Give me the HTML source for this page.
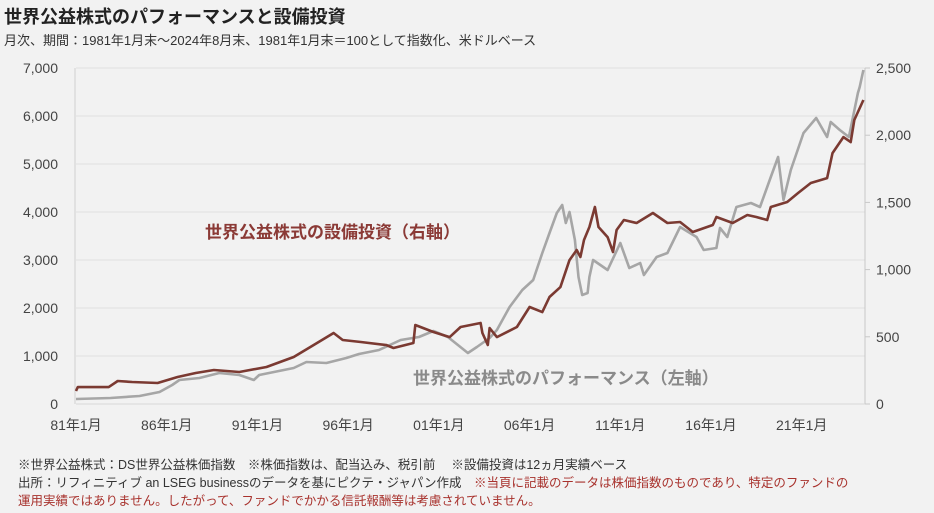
<!DOCTYPE html>
<html><head><meta charset="utf-8"><style>
body{margin:0;background:#f2f2f2;font-family:"Liberation Sans","Noto Sans CJK JP",sans-serif;}
svg{display:block}
</style></head><body>
<svg id="chart" width="934" height="513" viewBox="0 0 934 513">
<rect width="934" height="513" fill="#f2f2f2"/>
<text x="4" y="23" font-size="18" font-weight="bold" fill="#222">世界公益株式のパフォーマンスと設備投資</text>
<text x="4" y="45" font-size="13" fill="#333">月次、期間：1981年1月末～2024年8月末、1981年1月末＝100として指数化、米ドルベース</text>
<g id="grid"></g>
<g id="axes"></g>
<g id="series"></g>
<text x="205" y="238" font-size="17" font-weight="bold" fill="#8b3a36">世界公益株式の設備投資（右軸）</text>
<text x="413" y="384" font-size="17" font-weight="bold" fill="#8a8a8a">世界公益株式のパフォーマンス（左軸）</text>
<text x="18" y="469" font-size="12.5" fill="#333">※世界公益株式：DS世界公益株価指数　※株価指数は、配当込み、税引前　 ※設備投資は12ヵ月実績ベース</text>
<text x="18" y="487" font-size="12.5" fill="#333">出所：リフィニティブ an LSEG businessのデータを基にピクテ・ジャパン作成　<tspan fill="#a8322d">※当頁に記載のデータは株価指数のものであり、特定のファンドの</tspan></text>
<text x="18" y="505" font-size="12.5" fill="#a8322d">運用実績ではありません。したがって、ファンドでかかる信託報酬等は考慮されていません。</text>
</svg>
<script>
const leftTicks=[0,1000,2000,3000,4000,5000,6000,7000];
const leftTickLabels=["0","1,000","2,000","3,000","4,000","5,000","6,000","7,000"];
const rightTicks=[0,500,1000,1500,2000,2500];
const rightTickLabels=["0","500","1,000","1,500","2,000","2,500"];
const xTickYears=[1981,1986,1991,1996,2001,2006,2011,2016,2021];
const xTickLabels=["81年1月","86年1月","91年1月","96年1月","01年1月","06年1月","11年1月","16年1月","21年1月"];
const perfDates=[1981.0,1982.9,1984.5,1985.6,1986.3,1986.7,1987.8,1988.9,1990.0,1990.8,1991.1,1993.0,1993.7,1994.8,1995.9,1996.6,1997.7,1998.9,1999.9,2000.7,2001.5,2002.6,2003.1,2003.8,2004.2,2004.9,2005.6,2006.2,2006.7,2007.1,2007.5,2007.8,2008.0,2008.2,2008.5,2008.7,2008.9,2009.2,2009.3,2009.5,2010.3,2011.0,2011.5,2012.1,2012.3,2013.0,2013.6,2014.3,2015.2,2015.6,2016.3,2016.5,2016.9,2017.4,2018.2,2018.7,2019.3,2019.7,2020.0,2020.4,2021.1,2021.8,2022.4,2022.6,2023.1,2023.6,2024.1,2024.2,2024.4];
const perfValues=[104,125,167,250,396,500,542,646,604,500,604,750,875,854,958,1042,1125,1333,1396,1521,1396,1062,1187,1375,1542,2021,2375,2583,3146,3562,3979,4146,3771,4000,3417,2646,2271,2312,2646,3000,2791,3354,2833,2937,2687,3062,3146,3687,3479,3208,3250,3667,3479,4104,4187,4104,4729,5146,4250,4875,5646,5958,5562,5875,5708,5562,6479,6604,6958];
const capexDates=[1981.0,1981.1,1982.8,1983.3,1984.1,1985.5,1986.6,1987.6,1988.6,1990.0,1991.5,1993.0,1994.1,1995.2,1995.7,1996.7,1998.1,1998.5,1999.6,1999.7,2000.7,2001.6,2002.2,2003.3,2003.4,2003.7,2003.8,2004.2,2005.3,2006.0,2006.7,2007.1,2007.7,2008.2,2008.6,2008.8,2009.0,2009.3,2009.6,2009.8,2010.3,2010.6,2010.8,2011.2,2011.9,2012.8,2013.6,2014.3,2015.0,2016.1,2016.3,2017.2,2018.0,2018.5,2019.1,2019.3,2020.2,2020.8,2021.5,2022.4,2022.7,2023.3,2023.7,2023.9,2024.4];
const capexValues=[97,126,126,171,164,156,201,231,253,238,275,350,439,528,476,461,439,417,454,588,536,498,573,603,528,439,565,498,573,722,684,796,870,1071,1146,1094,1220,1317,1466,1317,1242,1131,1295,1369,1347,1421,1347,1354,1280,1332,1391,1347,1406,1391,1369,1466,1503,1570,1644,1681,1867,1986,1949,2113,2262];

const NS="http://www.w3.org/2000/svg";
const X0=76,X1=867,Y0=404,Y1=68;
const xs=d=>X0+(d-1981)/(2024.6-1981)*(X1-X0);
const yl=v=>Y0-v/7000*(Y0-Y1);
const yr=v=>Y0-v/2500*(Y0-Y1);
function mk(tag,attrs,parent){const e=document.createElementNS(NS,tag);for(const k in attrs)e.setAttribute(k,attrs[k]);parent.appendChild(e);return e;}
const grid=document.getElementById('grid'),axes=document.getElementById('axes'),series=document.getElementById('series');
leftTicks.forEach((t,i)=>{
  if(t>0){const g=mk('line',{x1:X0,x2:865,y1:yl(t),y2:yl(t),stroke:'#e0e0e0','stroke-width':1},grid);
  
  }
  const tx=mk('text',{x:58,y:yl(t)+5,'text-anchor':'end','font-size':14,fill:'#444'},axes);
  tx.textContent=leftTickLabels[i];
  
  
});
mk('line',{x1:X0-1,x2:X0-1,y1:Y1,y2:Y0,stroke:'#d0d0d0'},axes);
mk('line',{x1:865,x2:865,y1:Y1,y2:Y0,stroke:'#c8c8c8'},axes);
mk('line',{x1:X0,x2:865,y1:Y0,y2:Y0,stroke:'#d8d8d8'},axes);
rightTicks.forEach((t,i)=>{
  mk('line',{x1:865,x2:870,y1:yr(t),y2:yr(t),stroke:'#c8c8c8'},axes);
  const tx=mk('text',{x:876,y:yr(t)+5,'font-size':14,fill:'#444'},axes);
  tx.textContent=rightTickLabels[i];
  
  
});
xTickYears.forEach((d,i)=>{
  const tx=mk('text',{x:xs(d),y:430,'text-anchor':'middle','font-size':14,fill:'#444'},axes);
  tx.textContent=xTickLabels[i];
  
  
});
const p1=mk('polyline',{points:perfDates.map((d,i)=>xs(d).toFixed(1)+','+yl(perfValues[i]).toFixed(1)).join(' '),fill:'none',stroke:'#a6a6a6','stroke-width':2.6,'stroke-linejoin':'round'},series);


const p2=mk('polyline',{points:capexDates.map((d,i)=>xs(d).toFixed(1)+','+yr(capexValues[i]).toFixed(1)).join(' '),fill:'none',stroke:'#7b3a32','stroke-width':2.6,'stroke-linejoin':'round'},series);


</script>
</body></html>
